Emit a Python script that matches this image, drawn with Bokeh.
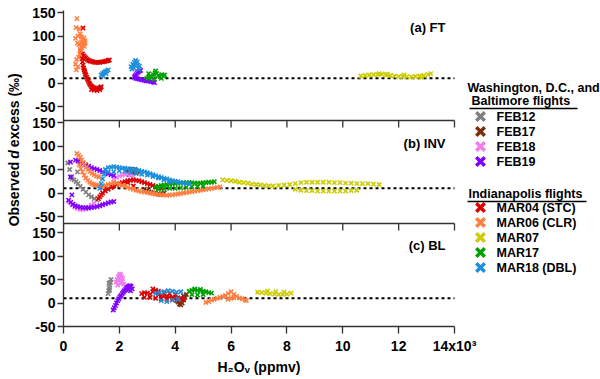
import math
from bokeh.plotting import figure
from bokeh.layouts import row
from bokeh.models import Range1d, FixedTicker, ColumnDataSource, Title
from bokeh.transform import dodge
from bokeh.core.properties import value
from bokeh.embed import file_html
from bokeh.resources import INLINE

# ---------------- data ----------------
FLIGHTS = ["FEB12", "FEB17", "FEB18", "FEB19", "MAR04", "MAR06", "MAR07", "MAR17", "MAR18"]
LEGEND_LABELS = ["FEB12", "FEB17", "FEB18", "FEB19", "MAR04 (STC)", "MAR06 (CLR)", "MAR07", "MAR17", "MAR18 (DBL)"]
COLORS = ["#808080", "#7A2E0E", "#F07CF0", "#7F00FF", "#DD0000", "#FF7F40", "#CCCC00", "#00A000", "#1E8FDC"]
GROUP_TITLES = ["Washington, D.C., and", "Baltimore flights", "Indianapolis flights"]
PANEL_LABELS = ["(a) FT", "(b) INV", "(c) BL"]
X_TICKS = [0, 2000, 4000, 6000, 8000, 10000, 12000, 14000]
X_TICK_LABELS = ["0", "2", "4", "6", "8", "10", "12", "14x10\u00b3"]
Y_TICKS = [-50, 0, 50, 100, 150]
REF_D = 10
X_TITLE = "H\u2082O\u1d65 (ppmv)"
Y_TITLE_PARTS = ["Observed", "d", "excess (\u2030)"]

# (a) FT
FT_MAR06_X = [480, 450, 560, 520, 600, 430, 500, 640, 700, 760, 720, 680, 650, 740, 780, 620, 580, 540, 470, 430, 520, 600, 690, 730, 710, 750, 670, 640, 560, 460]
FT_MAR06_D = [137, 118, 115, 100, 105, 95, 85, 98, 92, 90, 85, 80, 75, 78, 86, 70, 62, 55, 50, 40, 35, 72, 88, 96, 82, 84, 92, 86, 82, 28]
FT_MAR04_X = [620, 640, 660, 680, 700, 720, 740, 760, 780, 800, 830, 860, 890, 920, 950, 990, 1030, 1080, 1130, 1180, 1230, 1280, 1320, 1350, 1000, 1100, 1200, 1300, 680, 720, 760, 800, 850, 900, 950, 1000, 1060, 1120, 1180, 1240, 1300, 1360, 1420, 1480, 1540, 1600, 1640, 700]
FT_MAR04_D = [68, 60, 52, 45, 38, 32, 28, 24, 20, 17, 12, 8, 4, 0, -3, -6, -8, -10, -11, -12, -12, -11, -10, -8, -14, -15, -16, -14, 62, 58, 55, 53, 50, 48, 47, 46, 45, 44, 44, 44, 44, 45, 45, 46, 47, 48, 49, 117]
FT_MAR18_X = [1350, 1400, 1450, 1500, 1550, 1600, 1420, 1520, 2420, 2480, 2540, 2600, 2660, 2720, 2450, 2520, 2580, 2640, 2700, 2560]
FT_MAR18_D = [17, 20, 22, 24, 26, 28, 15, 20, 35, 40, 44, 42, 38, 36, 30, 32, 48, 45, 30, 38]
FT_FEB19_X = [2760, 2720, 2680, 2640, 2600, 2560, 2540, 2580, 2650, 2720, 2800, 2880, 2960, 3040, 3120, 3200, 3260]
FT_FEB19_D = [27, 26, 24, 21, 18, 15, 12, 10, 9, 8, 7, 6, 5, 4, 3, 2, 1]
FT_MAR17_X = [2980, 3040, 3100, 3160, 3220, 3280, 3340, 3400, 3460, 3520, 3580, 3620, 3300, 3250, 3500, 3050]
FT_MAR17_D = [10, 12, 14, 12, 18, 22, 20, 16, 14, 18, 15, 17, 26, 8, 10, 20]
FT_MAR07_X = [10650, 10800, 10950, 11100, 11250, 11400, 11550, 11700, 11850, 12000, 12150, 12300, 12450, 12600, 12750, 12900, 13050, 13150, 11300, 11600, 12200, 12800]
FT_MAR07_D = [15, 16, 17, 18, 18, 19, 17, 16, 15, 14, 14, 13, 13, 14, 15, 16, 18, 20, 20, 19, 17, 12]

# (b) INV
INV_FEB12_X = [150, 220, 300, 380, 450, 520, 600, 700, 800, 900, 1000, 1100, 1200, 500, 300]
INV_FEB12_D = [64, 50, 35, 28, 24, 20, 14, 8, 2, -4, -8, -12, -15, 45, 30]
INV_FEB17_X = [2250, 2300, 2350, 2400, 2450, 2500, 2550, 2600, 2650, 2350, 2450, 2550, 2900, 2980, 3060, 3140, 3220, 3300, 3380, 3460, 3540, 3600]
INV_FEB17_D = [44, 47, 48, 46, 45, 47, 44, 42, 45, 40, 50, 50, 8, 5, 3, 1, 0, -1, -2, -3, -2, 0]
INV_FEB18_X = [200, 300, 400, 500, 600, 700, 800, 900, 1000, 1100, 1800, 1900, 2000, 2100, 2200, 2300, 2400, 2500]
INV_FEB18_D = [-18, -25, -30, -33, -35, -35, -34, -30, -26, -22, 30, 33, 36, 38, 40, 40, 38, 35]
INV_FEB19_X = [430, 520, 600, 700, 800, 900, 1000, 1100, 1200, 1300, 1400, 1500, 1600, 1700, 1800, 250, 250, 300, 180, 260, 340, 420, 500, 600, 700, 800, 900, 1000, 1100, 1200, 1300, 1400, 1500, 1600, 1700, 1800]
INV_FEB19_D = [70, 68, 66, 63, 60, 57, 54, 52, 50, 48, 45, 43, 41, 39, 37, 66, 34, -4, -15, -20, -24, -27, -29, -30, -31, -31, -32, -31, -30, -29, -27, -25, -23, -21, -19, -18]
INV_MAR04_X = [1250, 1300, 1350, 1400, 1500, 1600, 1700, 1800, 1900, 2000, 2100, 2200, 2300, 2400, 2500, 2600, 2700, 2800, 2900, 3000, 3100, 3200, 3300, 3400, 3500, 1500, 1700, 1900, 2100, 2300, 2500]
INV_MAR04_D = [-12, -8, -4, 0, 4, 8, 12, 15, 18, 20, 22, 24, 26, 27, 28, 27, 26, 24, 22, 20, 18, 16, 14, 12, 10, 10, 14, 18, 20, 22, 15]
INV_MAR06_X = [480, 540, 600, 650, 700, 760, 820, 880, 950, 1020, 1100, 1180, 1260, 560, 620, 680, 740, 800, 870, 940, 1010, 1080, 1150, 1220, 1300, 1400, 1500, 1600, 1700, 1800, 1900, 2000, 2100, 2200, 2300, 2400, 2500, 2600, 2700, 2800, 2900, 3000, 3100, 3200, 3300, 3400, 3500, 3600, 3700, 3800, 3900, 4000, 4100, 4200, 4300, 4400, 4500, 4600, 4700, 4800, 4900, 5000, 5100, 5200, 5300, 5400, 5500, 5600]
INV_MAR06_D = [84, 80, 76, 70, 65, 60, 55, 50, 46, 42, 39, 36, 34, 60, 52, 45, 38, 32, 27, 23, 20, 18, 17, 16, 15, 15, 16, 18, 20, 22, 21, 19, 16, 14, 12, 10, 8, 6, 4, 3, 2, 1, 0, -1, -2, -3, -4, -4, -5, -4, -4, -3, -2, -1, 0, 1, 2, 3, 4, 5, 6, 7, 8, 9, 10, 11, 12, 13]
INV_MAR07_X = [5700, 5850, 6000, 6150, 6300, 6450, 6600, 6750, 6900, 7050, 7200, 7350, 7500, 7700, 7900, 8100, 8300, 8500, 8700, 8900, 9100, 9300, 9500, 9700, 9900, 10100, 10300, 10500, 10700, 10900, 11100, 11300, 8300, 8500, 8700, 8900, 9100, 9300, 9500, 9700, 9900, 10100, 10300, 10500]
INV_MAR07_D = [28, 27, 26, 25, 23, 22, 21, 19, 18, 17, 16, 15, 15, 16, 17, 18, 20, 22, 23, 23, 23, 23, 23, 22, 22, 21, 21, 20, 20, 20, 19, 18, 8, 6, 5, 5, 4, 4, 4, 4, 4, 4, 5, 6]
INV_MAR17_X = [3300, 3400, 3500, 3600, 3700, 3800, 3900, 4000, 4100, 4200, 4300, 4400, 4500, 4600, 4700, 4800, 4900, 5000, 5100, 5200, 5300, 5400, 3400, 3600, 3800, 4000, 4200, 4400, 4600, 4800, 5000]
INV_MAR17_D = [12, 14, 16, 17, 18, 19, 20, 20, 21, 21, 22, 22, 22, 22, 21, 21, 21, 22, 22, 23, 23, 24, 8, 9, 10, 10, 11, 12, 13, 14, 15]
INV_MAR18_X = [1300, 1350, 1400, 1450, 1500, 1600, 1700, 1800, 1900, 2000, 2100, 2200, 2300, 2400, 2500, 2600, 2700, 2800, 2900, 3000, 3100, 3200, 3300, 3400, 3500, 3600, 3700, 3800, 3900, 4000, 4100, 4200, 4300, 4400, 4500, 1600, 1800, 2000, 2200, 2400, 2600, 2800, 3000, 3200, 3400, 3600, 3800]
INV_MAR18_D = [10, 20, 30, 40, 50, 54, 55, 56, 55, 54, 53, 53, 52, 51, 50, 49, 48, 46, 45, 43, 41, 39, 37, 35, 33, 31, 30, 28, 26, 25, 24, 22, 21, 20, 19, 45, 45, 47, 46, 44, 42, 40, 38, 35, 32, 28, 24]

# (c) BL
BL_FEB12_X = [1600, 1620, 1640, 1660, 1680, 1700, 1650, 1630]
BL_FEB12_D = [20, 26, 32, 38, 44, 50, 28, 42]
BL_FEB17_X = [4050, 4100, 4150, 4200, 4250, 4300, 4350, 4400, 4200, 4300]
BL_FEB17_D = [5, 2, -2, -4, 0, 6, 12, 18, 10, 15]
BL_FEB18_X = [1880, 1920, 1960, 2000, 2040, 2080, 2120, 2160, 1940, 2020, 2100, 1980, 2060]
BL_FEB18_D = [45, 50, 55, 58, 60, 56, 52, 40, 38, 62, 46, 48, 42]
BL_FEB19_X = [1780, 1820, 1860, 1900, 1940, 1980, 2020, 2060, 2100, 2140, 2180, 2220, 2260, 2300, 2340, 2380, 2420, 2460, 2340, 2400]
BL_FEB19_D = [-15, -10, -5, 0, 5, 9, 13, 16, 20, 23, 26, 29, 32, 34, 36, 37, 35, 30, 28, 26]
BL_MAR04_X = [2800, 2900, 3000, 3100, 3200, 3300, 3400, 3500, 3600, 3700, 3800, 3900, 4000, 4100, 4200, 4300, 2900, 3100, 3300, 3500, 3700, 3900, 4100, 3200, 3400, 3600, 3800, 4000]
BL_MAR04_D = [20, 22, 21, 19, 24, 27, 18, 16, 15, 14, 13, 12, 12, 11, 10, 9, 12, 12, 10, 9, 8, 7, 6, 30, 25, 22, 20, 18]
BL_MAR06_X = [5100, 5200, 5300, 5400, 5500, 5600, 5700, 5800, 5900, 6000, 6100, 6200, 6300, 6400, 6500, 6550, 5900, 6000, 6100]
BL_MAR06_D = [1, 3, 6, 8, 10, 12, 14, 16, 20, 24, 18, 14, 11, 9, 7, 5, 8, 10, 11]
BL_MAR07_X = [6950, 7100, 7250, 7400, 7550, 7700, 7850, 8000, 8150, 7300, 7600, 7900]
BL_MAR07_D = [23, 22, 21, 20, 19, 18, 18, 19, 21, 25, 24, 23]
BL_MAR17_X = [4500, 4600, 4700, 4800, 4900, 5000, 5100, 5200, 5300, 4600, 4800, 5000, 4700, 4900]
BL_MAR17_D = [25, 27, 28, 27, 26, 25, 24, 22, 21, 18, 17, 18, 30, 29]
BL_MAR18_X = [3300, 3450, 3600, 3750, 3900, 4050, 4200, 3500, 3700, 3900, 4100]
BL_MAR18_D = [20, 22, 24, 26, 25, 23, 24, 5, 3, 6, 8]

# ---------------- layout constants (page pixels) ----------------
PAGE_W, PAGE_H = 600, 379
TITLE_W = 22
FRAME_LEFT_PX, FRAME_BOTTOM_PX = 63, 326
PX_PER_X = 391 / 14000.0
PX_PER_D = 0.47
OFFSETS = [468, 234, 0]  # panel a, b, c stacking offsets (d units)
FONT = "Liberation Sans"
AX_COLOR = "#333333"

def xpx(px):
    return (px - FRAME_LEFT_PX) / PX_PER_X

def ypx(py):
    return -50 + (FRAME_BOTTOM_PX - py) / PX_PER_D

MAIN_W = PAGE_W - TITLE_W
BORDER_L = FRAME_LEFT_PX - TITLE_W
BORDER_B = PAGE_H - FRAME_BOTTOM_PX
XMAX = (MAIN_W - BORDER_L) / PX_PER_X
YMAX = -50 + FRAME_BOTTOM_PX / PX_PER_D

p = figure(width=MAIN_W, height=PAGE_H, output_backend="svg", toolbar_location=None,
           x_range=Range1d(0, XMAX), y_range=Range1d(-50, YMAX),
           min_border_left=BORDER_L, min_border_right=0, min_border_top=0,
           min_border_bottom=BORDER_B)
p.outline_line_color = None
p.grid.grid_line_color = None

# x axis
xa = p.xaxis[0]
xa.bounds = (X_TICKS[0], X_TICKS[-1])
xa.ticker = FixedTicker(ticks=X_TICKS)
xa.major_label_overrides = {t: l for t, l in zip(X_TICKS, X_TICK_LABELS)}
xa.minor_tick_line_color = None
xa.major_tick_in = 0
xa.major_tick_out = 7
xa.major_label_standoff = 4

# y axis (three stacked panels share one axis)
ya = p.yaxis[0]
yt, ylab = [], {}
for off in OFFSETS:
    for t in Y_TICKS:
        yt.append(t + off)
        ylab[t + off] = str(t)
ya.ticker = FixedTicker(ticks=yt)
ya.major_label_overrides = ylab
ya.bounds = (-50, ypx(10))
ya.minor_tick_line_color = None
ya.major_tick_in = 0
ya.major_tick_out = 6
ya.major_label_standoff = 2

for a in (xa, ya):
    a.axis_line_color = AX_COLOR
    a.major_tick_line_color = AX_COLOR
    a.axis_line_width = 1.3
    a.major_tick_line_width = 1.3
    a.major_label_text_font = FONT
    a.major_label_text_font_style = "bold"
    a.major_label_text_font_size = "14px"
    a.major_label_text_color = "black"

# x axis title, placed under the 0..14x10^3 span
p.add_layout(Title(text=X_TITLE, align="left", offset=217 - FRAME_LEFT_PX, standoff=0,
                   text_font=FONT, text_font_style="bold", text_font_size="14px",
                   text_color="black"), "below")

# top lines of panels b and c with inward ticks
tick_len = 7 / PX_PER_D
for top in [ypx(120), ypx(223)]:
    p.segment(x0=[X_TICKS[0]], x1=[X_TICKS[-1]], y0=[top], y1=[top], line_color=AX_COLOR, line_width=1.3)
    p.segment(x0=X_TICKS, x1=X_TICKS, y0=[top] * len(X_TICKS), y1=[top - tick_len] * len(X_TICKS),
              line_color=AX_COLOR, line_width=1.3)

# reference dotted lines
for off in OFFSETS:
    p.segment(x0=[X_TICKS[0]], x1=[X_TICKS[-1]], y0=[REF_D + off], y1=[REF_D + off],
              line_color="black", line_width=2, line_dash="3 3")

# data
PANELS = [
    {"MAR06": (FT_MAR06_X, FT_MAR06_D), "MAR04": (FT_MAR04_X, FT_MAR04_D), "MAR18": (FT_MAR18_X, FT_MAR18_D),
     "FEB19": (FT_FEB19_X, FT_FEB19_D), "MAR17": (FT_MAR17_X, FT_MAR17_D), "MAR07": (FT_MAR07_X, FT_MAR07_D)},
    {"FEB12": (INV_FEB12_X, INV_FEB12_D), "FEB17": (INV_FEB17_X, INV_FEB17_D), "FEB18": (INV_FEB18_X, INV_FEB18_D),
     "FEB19": (INV_FEB19_X, INV_FEB19_D), "MAR04": (INV_MAR04_X, INV_MAR04_D), "MAR06": (INV_MAR06_X, INV_MAR06_D),
     "MAR07": (INV_MAR07_X, INV_MAR07_D), "MAR17": (INV_MAR17_X, INV_MAR17_D), "MAR18": (INV_MAR18_X, INV_MAR18_D)},
    {"FEB12": (BL_FEB12_X, BL_FEB12_D), "FEB17": (BL_FEB17_X, BL_FEB17_D), "FEB18": (BL_FEB18_X, BL_FEB18_D),
     "FEB19": (BL_FEB19_X, BL_FEB19_D), "MAR04": (BL_MAR04_X, BL_MAR04_D), "MAR06": (BL_MAR06_X, BL_MAR06_D),
     "MAR07": (BL_MAR07_X, BL_MAR07_D), "MAR17": (BL_MAR17_X, BL_MAR17_D), "MAR18": (BL_MAR18_X, BL_MAR18_D)},
]
for off, series in zip(OFFSETS, PANELS):
    for fl, col in zip(FLIGHTS, COLORS):
        if fl not in series:
            continue
        xs, ds = series[fl]
        src = ColumnDataSource(dict(x=xs, d=ds))
        p.scatter(x="x", y=dodge("d", off, range=p.y_range), source=src, marker="x",
                  size=6, line_width=1.6, line_color=col)

# panel labels
p.text(x=[xpx(445)] * 3, y=[ypx(27), ypx(143), ypx(245)], text=PANEL_LABELS,
       text_align="right", text_baseline="middle", text_font=value(FONT),
       text_font_style="bold", text_font_size="13px", text_color="black")

# legend (drawn manually in the right part of the frame)
p.text(x=[xpx(467), xpx(471), xpx(468)], y=[ypx(87), ypx(100), ypx(193)], text=GROUP_TITLES,
       text_align="left", text_baseline="middle", text_font=value(FONT),
       text_font_style="bold", text_font_size="12.5px", text_color="black")
p.segment(x0=[xpx(469), xpx(467)], x1=[xpx(577), xpx(586)], y0=[ypx(108), ypx(201)], y1=[ypx(108), ypx(201)],
          line_color="black", line_width=1.3)
item_y = [ypx(116 + 15 * i) for i in range(4)] + [ypx(207 + 15 * i) for i in range(5)]
p.scatter(x=[xpx(480)] * len(FLIGHTS), y=item_y, marker="x", size=12, line_width=3.5, line_color=COLORS)
p.text(x=[xpx(496)] * len(FLIGHTS), y=item_y, text=LEGEND_LABELS, text_align="left", text_baseline="middle",
       text_font=value(FONT), text_font_style="bold", text_font_size="12.5px", text_color="black")

# y axis title (own narrow figure so the "d" can be italic)
t = figure(width=TITLE_W, height=PAGE_H, output_backend="svg", toolbar_location=None,
           x_range=Range1d(0, TITLE_W), y_range=Range1d(0, PAGE_H),
           min_border_left=0, min_border_right=0, min_border_top=0, min_border_bottom=0)
t.axis.visible = False
t.grid.grid_line_color = None
t.outline_line_color = None
D_CENTER_PY = 179
t_py = [D_CENTER_PY + 8.5, D_CENTER_PY, D_CENTER_PY - 8.5]
t_style = ["bold", "bold italic", "bold"]
t_align = ["right", "center", "left"]
for txt, py, st, al in zip(Y_TITLE_PARTS, t_py, t_style, t_align):
    t.text(x=[13], y=[PAGE_H - py], text=[txt], angle=math.pi / 2, text_align=al, text_baseline="middle",
           text_font=value(FONT), text_font_style=st, text_font_size="14px", text_color="black")

layout = row(t, p)
open("out.html", "w").write(file_html(layout, INLINE))
